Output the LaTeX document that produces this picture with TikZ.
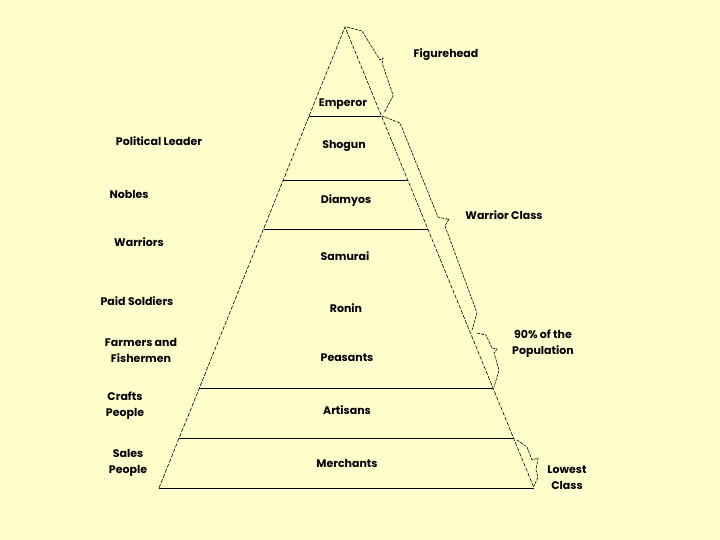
\documentclass[tikz,border=0pt]{standalone}
\usepackage{fontspec}
\setmainfont{Poppins}
\usetikzlibrary{calc}
\definecolor{paper}{RGB}{255,255,204}

\begin{document}
\begin{tikzpicture}[
			x=1pt, y=-1pt,
			side/.style={dash pattern=on 4pt off 1.5pt, line width=0.6pt},
			brace/.style={dash pattern=on 3pt off 1pt, line width=0.6pt},
			level/.style={line width=0.7pt},
			rank/.style={font=\fontsize{11}{16}\selectfont\bfseries, align=center},
			note/.style={font=\fontsize{11}{16}\selectfont\bfseries, align=center}
			]
			\fill[paper] (0,0) rectangle (720,540);
			\useasboundingbox (0,0) rectangle (720,540);

			% pyramid
			\coordinate (apex) at (345,27);
			\coordinate (bl) at (159,488);
			\coordinate (br) at (534,488);
			\draw[side] (bl) -- (apex) -- (br);
			\draw[level] (bl) -- (br);
			\foreach \t in {0.193, 0.332, 0.438, 0.783, 0.892}
				\draw[level] ($(apex)!\t!(bl)$) -- ($(apex)!\t!(br)$);

			% ranks inside
			\node[rank] (emperor) at (343,104) {Emperor};
			\node[rank] (shogun) at (344,146) {Shogun};
			\node[rank] (diamyos) at (346,201) {Diamyos};
			\node[rank] (samurai) at (345,256) {Samurai};
			\node[rank] (ronin) at (346,308) {Ronin};
			\node[rank] (peasants) at (347,358) {Peasants};
			\node[rank] (artisans) at (347,410) {Artisans};
			\node[rank] (merchants) at (347,463) {Merchants};

			% roles on the left
			\node[note] (leader) at (159,141) {Political Leader};
			\node[note] (nobles) at (129,194) {Nobles};
			\node[note] (warriors) at (139,242) {Warriors};
			\node[note] (soldiers) at (137,301) {Paid Soldiers};
			\node[note] (farmers) at (141,350) {Farmers and\\Fishermen};
			\node[note] (crafts) at (125,406) {Crafts\\People};
			\node[note] (sales) at (128,463) {Sales\\People};

			% classes on the right
			\node[note] (figure) at (446,55) {Figurehead};
			\node[note] (warclass) at (504,215) {Warrior Class};
			\node[note] (popul) at (543,344) {90\% of the\\Population};
			\node[note] (lowest) at (567,478) {Lowest\\Class};

			% braces
			\draw[brace] (347,27) -- (362,31) -- (380,60) -- (383,58) -- (382,63)
				-- (392,92) -- (393,96) -- (384,113);
			\draw[brace] (382,116) -- (400,123) -- (438,217) -- (446,219) -- (449,219)
				-- (445,226) -- (477,313) -- (472,330);
			\draw[brace] (477,333) -- (486,335) -- (492,348) -- (497,349) -- (494,353)
				-- (499,370) -- (494,387);
			\draw[brace] (517,440) -- (527,447) -- (532,460) -- (538,458) -- (536,470)
				-- (538,477) -- (534,486);
		\end{tikzpicture}
\end{document}
